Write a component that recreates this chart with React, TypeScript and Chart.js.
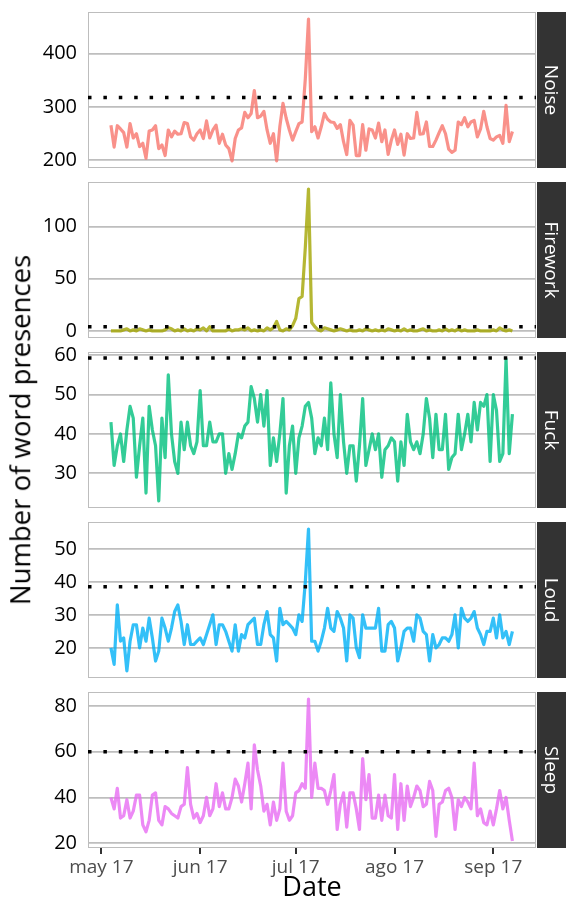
import React, { useEffect, useRef } from "react";
import { Chart, registerables } from "chart.js";
Chart.register(...registerables);

// x values: days after 2017-05-01
const firstDay = 3; // 2017-05-04
const monthTickDays = [0, 31, 61, 92, 123];
const monthTickLabels = ["may 17", "jun 17", "jul 17", "ago 17", "sep 17"];

const noise = [
  266, 225, 265, 259, 252, 225, 269, 242, 250, 226,
  232, 204, 255, 257, 265, 222, 229, 209, 257, 244,
  255, 249, 250, 271, 269, 244, 238, 250, 257, 241,
  274, 242, 257, 266, 232, 249, 229, 222, 199, 241,
  257, 261, 290, 280, 288, 331, 280, 283, 292, 257,
  232, 250, 199, 263, 307, 279, 257, 238, 254, 269,
  272, 353, 465,
  254, 263, 242, 263, 288, 277, 272, 271, 260, 267,
  235, 211, 275, 266, 209, 209, 267, 219, 259, 257,
  242, 270, 235, 257, 211, 238, 257, 230, 249, 210,
  250, 241, 242, 290, 249, 250, 272, 226, 226, 238,
  252, 265, 250, 221, 215, 219, 272, 267, 280, 263,
  272, 275, 244, 259, 292, 263, 241, 238, 244, 247,
  232, 303, 235, 254,
];

const firework = [
  0, 0, 0, 0, 1, 2, 0, 1, 0, 2,
  1, 0, 1, 0, 0, 0, 0, 1, 3, 2,
  0, 1, 0, 2, 0, 1, 0, 2, 1, 3,
  0, 4, 0, 0, 0, 0, 0, 2, 0, 1,
  1, 2, 1, 3, 0, 1, 0, 1, 0, 3,
  1, 3, 9, 1, 0, 2, 1, 5, 12, 31,
  33, 80, 136,
  8, 4, 1, 0, 3, 2, 1, 0, 1, 2,
  1, 0, 1, 0, 0, 1, 0, 2, 1, 0,
  1, 0, 1, 0, 2, 1, 0, 1, 0, 2,
  0, 1, 0, 0, 1, 2, 0, 1, 0, 0,
  1, 0, 2, 0, 1, 0, 2, 0, 1, 0,
  0, 0, 1, 0, 0, 0, 0, 1, 0, 3,
  1, 0, 1, 0,
];

const fuck = [
  43, 32, 37, 40, 33, 41, 47, 44, 29, 37,
  44, 25, 47, 41, 37, 23, 44, 34, 55, 40,
  33, 30, 43, 36, 43, 37, 35, 38, 51, 37,
  37, 43, 38, 38, 40, 40, 30, 35, 31, 35,
  40, 39, 42, 43, 52, 49, 43, 50, 42, 51,
  32, 39, 33, 40, 49, 25, 37, 42, 30, 39,
  42, 47, 48,
  44, 35, 39, 37, 44, 36, 53, 40, 34, 50,
  38, 30, 37, 37, 28, 37, 49, 32, 36, 40,
  36, 40, 29, 36, 37, 39, 38, 28, 38, 32,
  45, 38, 36, 38, 35, 40, 49, 44, 34, 45,
  36, 36, 45, 31, 34, 35, 45, 36, 40, 45,
  38, 48, 41, 48, 47, 50, 33, 50, 46, 33,
  35, 59, 35, 45,
];

const loud = [
  20, 15, 33, 22, 23, 13, 22, 27, 27, 20,
  26, 22, 29, 23, 16, 19, 29, 26, 22, 26,
  31, 33, 28, 21, 27, 21, 21, 22, 23, 21,
  24, 27, 30, 21, 27, 27, 25, 22, 19, 27,
  19, 24, 23, 27, 28, 29, 21, 21, 27, 31,
  24, 23, 16, 32, 27, 28, 27, 26, 24, 30,
  28, 40, 56,
  22, 22, 19, 22, 26, 32, 26, 25, 31, 29,
  26, 16, 30, 29, 20, 17, 30, 26, 26, 26,
  26, 32, 19, 19, 27, 28, 26, 16, 20, 25,
  26, 26, 22, 30, 29, 25, 24, 16, 24, 20,
  21, 23, 23, 22, 24, 30, 20, 32, 29, 28,
  29, 31, 26, 24, 21, 25, 25, 29, 23, 30,
  23, 25, 21, 25,
];

const sleep = [
  40, 35, 44, 31, 32, 39, 31, 34, 41, 41,
  28, 25, 30, 41, 42, 30, 28, 36, 35, 33,
  32, 31, 36, 37, 53, 37, 31, 33, 29, 32,
  40, 32, 35, 46, 36, 42, 35, 35, 40, 48,
  45, 38, 46, 55, 35, 63, 52, 45, 34, 37,
  28, 38, 30, 35, 55, 34, 30, 32, 42, 43,
  46, 44, 83,
  40, 55, 44, 44, 43, 37, 43, 50, 26, 37,
  42, 27, 42, 42, 35, 26, 57, 39, 50, 31,
  31, 41, 30, 41, 32, 31, 50, 26, 46, 30,
  45, 36, 40, 45, 43, 36, 37, 47, 43, 23,
  37, 38, 43, 44, 40, 26, 39, 36, 40, 38,
  35, 55, 32, 35, 29, 28, 34, 28, 35, 43,
  35, 40, 30, 21,
];

const panelNames = ["Noise", "Firework", "Fuck", "Loud", "Sleep"];
const panelSeries = [noise, firework, fuck, loud, sleep];
const panelColors = [
  "rgba(248,118,109,0.8)",
  "rgba(163,165,0,0.8)",
  "rgba(0,191,125,0.8)",
  "rgba(0,176,246,0.8)",
  "rgba(231,107,243,0.8)",
];
const thresholds = [318, 4, 59.3, 38.5, 60];
const yTickValues = [
  [200, 300, 400],
  [0, 50, 100],
  [30, 40, 50, 60],
  [20, 30, 40, 50],
  [20, 40, 60, 80],
];

const FONT = "'Open Sans', 'Noto Sans', sans-serif";
const W = 566;
const PANEL_LEFT = 88;
const PANEL_RIGHT = 536;
const PANEL_H = 156;
const PANEL_TOPS = [12, 182, 352, 522, 692];
const PAD = 30;
const X_MIN = -4.2;
const X_MAX = 136.4;

function yRange(vals: number[]) {
  const mn = Math.min(...vals);
  const mx = Math.max(...vals);
  const e = (mx - mn) * 0.05;
  return [mn - e, mx + e];
}

const panelPlugin = {
  id: "panelDecor",
  beforeDatasetsDraw(chart: any) {
    const { ctx, chartArea } = chart;
    ctx.save();
    ctx.strokeStyle = "#BDBDBD";
    ctx.lineWidth = 1;
    ctx.strokeRect(chartArea.left + 0.5, chartArea.top + 0.5, chartArea.right - chartArea.left - 1, chartArea.bottom - chartArea.top - 1);
    ctx.restore();
  },
  afterDraw(chart: any, _a: any, opts: any) {
    const { ctx, chartArea } = chart;
    ctx.save();
    ctx.fillStyle = "#333333";
    const sx = chartArea.right + 1;
    ctx.fillRect(sx, chartArea.top, W - sx, chartArea.bottom - chartArea.top);
    ctx.translate((sx + W) / 2, (chartArea.top + chartArea.bottom) / 2);
    ctx.rotate(Math.PI / 2);
    ctx.fillStyle = "#FFFFFF";
    ctx.font = `19px ${FONT}`;
    ctx.textAlign = "center";
    ctx.textBaseline = "middle";
    ctx.fillText(opts.label, 0, 1);
    ctx.restore();
  },
};

function Panel({ idx }: { idx: number }) {
  const ref = useRef<HTMLCanvasElement>(null);
  const isLast = idx === panelNames.length - 1;
  const top = PANEL_TOPS[idx] - PAD;
  const height = isLast ? 906 - top : PANEL_H + 2 * PAD;
  useEffect(() => {
    const vals = panelSeries[idx];
    const [yMin, yMax] = yRange(vals);
    const pts = vals.map((v, i) => ({ x: firstDay + i, y: v }));
    const chart = new Chart(ref.current as HTMLCanvasElement, {
      type: "line",
      data: {
        datasets: [
          {
            data: [
              { x: X_MIN, y: thresholds[idx] },
              { x: X_MAX, y: thresholds[idx] },
            ],
            borderColor: "#000000",
            borderWidth: 3.5,
            borderDash: [3.5, 11.9],
            borderCapStyle: "butt",
            pointRadius: 0,
            order: 0,
          },
          {
            data: pts,
            borderColor: panelColors[idx],
            borderWidth: 3.2,
            borderJoinStyle: "round",
            pointRadius: 0,
            tension: 0,
            order: 1,
          },
        ],
      },
      options: {
        responsive: false,
        animation: false,
        devicePixelRatio: 1,
        events: [],
        layout: { padding: { left: 0, right: W - PANEL_RIGHT, top: PAD, bottom: isLast ? 0 : PAD } },
        plugins: {
          legend: { display: false },
          tooltip: { enabled: false },
          panelDecor: { label: panelNames[idx] },
        } as any,
        scales: {
          x: {
            type: "linear",
            min: X_MIN,
            max: X_MAX,
            display: isLast,
            afterBuildTicks: (s: any) => {
              s.ticks = monthTickDays.map((v) => ({ value: v }));
            },
            afterFit: (s: any) => {
              s.height = isLast ? height - PAD - PANEL_H : 0;
            },
            ticks: {
              autoSkip: false,
              maxRotation: 0,
              color: "#4D4D4D",
              font: { family: FONT, size: 19 },
              padding: 2,
              callback: (v: any) => {
                const k = monthTickDays.indexOf(Number(v));
                return k >= 0 ? monthTickLabels[k] : "";
              },
            },
            grid: {
              display: true,
              drawOnChartArea: false,
              drawTicks: true,
              tickLength: 6,
              color: "#333333",
              lineWidth: 2,
            },
            border: { display: false },
            title: {
              display: true,
              text: "Date",
              color: "#000000",
              font: { family: FONT, size: 27 },
              padding: { top: 0, bottom: 1 },
            },
          },
          y: {
            type: "linear",
            min: yMin,
            max: yMax,
            afterBuildTicks: (s: any) => {
              s.ticks = yTickValues[idx].map((v) => ({ value: v }));
            },
            afterFit: (s: any) => {
              s.width = PANEL_LEFT;
            },
            ticks: {
              color: "#000000",
              font: { family: FONT, size: 20 },
              padding: 11,
            },
            grid: { color: "#BEBEBE", lineWidth: 1.8, drawTicks: false },
            border: { display: false },
          },
        },
      },
      plugins: [panelPlugin],
    });
    return () => chart.destroy();
  }, [idx]);
  return (
    <canvas
      ref={ref}
      width={W}
      height={height}
      style={{ position: "absolute", left: 0, top, width: W, height }}
    />
  );
}

export default function App() {
  return (
    <div style={{ position: "absolute", left: 0, top: 0, width: W, height: 906, overflow: "hidden", background: "#fff" }}>
      {panelNames.map((_, i) => (
        <Panel key={i} idx={i} />
      ))}
      <div
        style={{
          position: "absolute",
          left: 20,
          top: 430,
          transform: "translate(-50%, -50%) rotate(-90deg)",
          whiteSpace: "nowrap",
          fontFamily: FONT,
          fontSize: 27.5,
          color: "#000",
          lineHeight: 1,
        }}
      >
        Number of word presences
      </div>
    </div>
  );
}
